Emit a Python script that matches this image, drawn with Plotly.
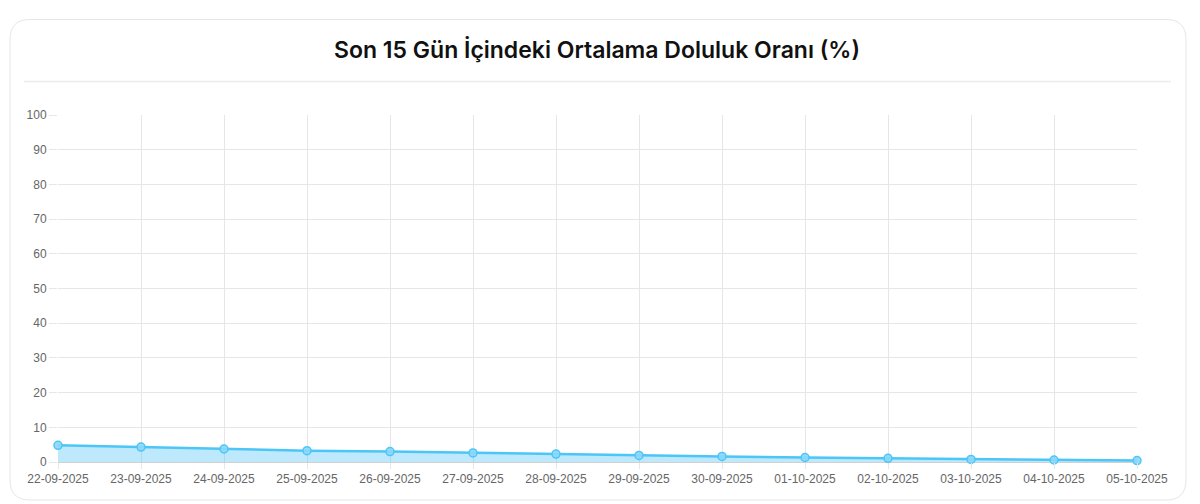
import plotly.graph_objects as go

# son 15 gunun ortalama doluluk orani
dates = ['22-09-2025', '23-09-2025', '24-09-2025', '25-09-2025', '26-09-2025',
         '27-09-2025', '28-09-2025', '29-09-2025', '30-09-2025', '01-10-2025',
         '02-10-2025', '03-10-2025', '04-10-2025', '05-10-2025']
occupancy = [4.8, 4.3, 3.75, 3.25, 3.0, 2.6, 2.3, 1.9, 1.6, 1.3, 1.05, 0.75, 0.58, 0.4]
y_ticks = [0, 10, 20, 30, 40, 50, 60, 70, 80, 90, 100]

# the page puts the plot 8px in from the top-left corner
OFF = 8
W, H = 1200 - OFF, 504 - OFF
ML, MR, MT, MB = 58 - OFF, 63, 115 - OFF, 42
PW, PH = W - ML - MR, H - MT - MB


def px(x, y):
    # window pixel -> paper coords
    x, y = x - OFF, y - OFF
    return (x - ML) / PW, (H - MB - y) / PH


def card_path(x0, y0, x1, y1, r):
    def p(x, y):
        a, b = px(x, y)
        return f'{a:.5f},{b:.5f}'
    pts = [
        'M ' + p(x0 + r, y0),
        'L ' + p(x1 - r, y0),
        'Q ' + p(x1, y0) + ' ' + p(x1, y0 + r),
        'L ' + p(x1, y1 - r),
        'Q ' + p(x1, y1) + ' ' + p(x1 - r, y1),
        'L ' + p(x0 + r, y1),
        'Q ' + p(x0, y1) + ' ' + p(x0, y1 - r),
        'L ' + p(x0, y0 + r),
        'Q ' + p(x0, y0) + ' ' + p(x0 + r, y0),
    ]
    return ' '.join(pts) + ' Z'


fig = go.Figure()
fig.add_trace(go.Scatter(
    x=dates, y=occupancy,
    mode='lines+markers',
    fill='tozeroy',
    fillcolor='rgba(54,185,245,0.32)',
    line=dict(color='#4cc6f7', width=2.5),
    marker=dict(size=8, color='rgba(140,215,250,0.9)', line=dict(color='#4cc6f7', width=1.5)),
    cliponaxis=False,
    showlegend=False,
))

sx0, sy = px(24, 81.5)
sx1, _ = px(1171, 81.5)

fig.update_layout(
    width=W, height=H,
    margin=dict(l=ML, r=MR, t=MT, b=MB),
    paper_bgcolor='white',
    plot_bgcolor='white',
    title=dict(
        text='Son 15 Gün İçindeki Ortalama Doluluk Oranı (%)',
        x=(597 - OFF) / W, xref='container', xanchor='center',
        y=1 - (50 - OFF) / H, yref='container', yanchor='middle',
        font=dict(family='Inter, Noto Sans, sans-serif', size=23, color='#111', weight=600),
    ),
    font=dict(family='Liberation Sans, Arial, sans-serif', size=12, color='#666'),
    xaxis=dict(
        type='category', range=[0, len(dates) - 1],
        showgrid=True, gridcolor='#e6e6e6', gridwidth=1,
        ticks='outside', ticklen=6, tickcolor='#e6e6e6',
        showline=False, zeroline=False,
        tickfont=dict(size=12, color='#666'),
    ),
    yaxis=dict(
        range=[0, 100], tickvals=y_ticks,
        showgrid=True, gridcolor='#e6e6e6', gridwidth=1,
        ticks='outside', ticklen=8, tickcolor='#e6e6e6',
        zeroline=True, zerolinecolor='#d0d0d0', zerolinewidth=1,
        showline=False,
        tickfont=dict(size=12, color='#666'),
    ),
    shapes=[
        dict(type='path', xref='paper', yref='paper', path=card_path(10, 19.5, 1186, 500, 20),
             line=dict(color='#e6e6e6', width=1), fillcolor='rgba(0,0,0,0)', layer='below'),
        dict(type='line', xref='paper', yref='paper', x0=sx0, x1=sx1, y0=sy, y1=sy,
             line=dict(color='#ececec', width=1.5), layer='below'),
    ],
)

fig.write_html('out.html')
